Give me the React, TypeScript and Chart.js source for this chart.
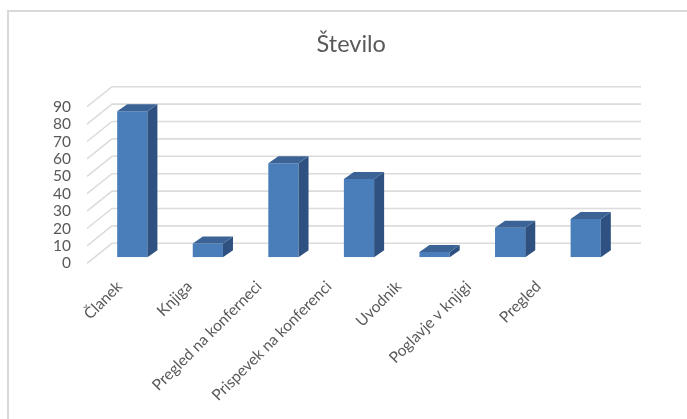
import React, { useEffect, useRef } from "react";
import { Chart, registerables } from "chart.js";

Chart.register(...registerables);

const TITLE = "Število";
const CATEGORIES = [
  "Članek",
  "Knjiga",
  "Pregled na konferneci",
  "Prispevek na konferenci",
  "Uvodnik",
  "Poglavje v knjigi",
  "Pregled",
];
const VALUES = [84, 8, 54, 45, 3, 17, 22];
const Y_MIN = 0;
const Y_MAX = 90;
const Y_STEP = 10;

const FRONT_COLOR = "#4a7ebb";
const SIDE_COLOR = "#2f5181";
const TOP_COLOR = "#3b6396";
const GRID_COLOR = "#dcdcdc";
const TEXT_COLOR = "#595959";
const FONT = "Lato";

const BAR_DEPTH = { dx: 10, dy: -7 };
const WALL_FRONT = { dx: -7.5, dy: 6 };
const WALL_BACK = { dx: 17.5, dy: -14 };

// label axis range (Excel places rotated labels slightly tighter than the bars)
const LABEL_AXIS_MIN = -0.36;
const LABEL_AXIS_MAX = 7.22;

const threeD = {
  id: "threeD",
  beforeDraw(chart: any) {
    const ctx = chart.ctx;
    ctx.save();
    ctx.strokeStyle = "#d9d9d9";
    ctx.lineWidth = 2;
    ctx.strokeRect(8, 11, chart.width + 20, chart.height + 20);
    ctx.restore();
  },
  beforeDatasetsDraw(chart: any) {
    const { ctx, chartArea, scales } = chart;
    const y = scales.y;
    ctx.save();
    ctx.strokeStyle = GRID_COLOR;
    ctx.lineWidth = 1.6;
    y.ticks.forEach((t: any) => {
      const py = y.getPixelForValue(t.value);
      ctx.beginPath();
      ctx.moveTo(chartArea.left + WALL_FRONT.dx, py + WALL_FRONT.dy);
      ctx.lineTo(chartArea.left + WALL_BACK.dx, py + WALL_BACK.dy);
      ctx.lineTo(chartArea.right + WALL_BACK.dx, py + WALL_BACK.dy);
      ctx.stroke();
    });
    ctx.restore();
  },
  afterDatasetsDraw(chart: any) {
    const ctx = chart.ctx;
    const meta = chart.getDatasetMeta(0);
    ctx.save();
    meta.data.forEach((bar: any) => {
      const { x, y, base, width } = bar.getProps(["x", "y", "base", "width"], true);
      const l = x - width / 2;
      const r = x + width / 2;
      const { dx, dy } = BAR_DEPTH;
      ctx.fillStyle = SIDE_COLOR;
      ctx.beginPath();
      ctx.moveTo(r, y);
      ctx.lineTo(r + dx, y + dy);
      ctx.lineTo(r + dx, base + dy);
      ctx.lineTo(r, base);
      ctx.closePath();
      ctx.fill();
      ctx.fillStyle = TOP_COLOR;
      ctx.beginPath();
      ctx.moveTo(l, y);
      ctx.lineTo(l + dx, y + dy);
      ctx.lineTo(r + dx, y + dy);
      ctx.lineTo(r, y);
      ctx.closePath();
      ctx.fill();
    });
    ctx.restore();
  },
};

export default function App() {
  const ref = useRef<HTMLCanvasElement | null>(null);

  useEffect(() => {
    document.body.style.margin = "0";
    if (!ref.current) return;
    const chart = new Chart(ref.current, {
      type: "bar",
      data: {
        labels: CATEGORIES,
        datasets: [
          {
            label: TITLE,
            data: VALUES,
            backgroundColor: FRONT_COLOR,
            borderWidth: 0,
            barPercentage: 0.4,
            categoryPercentage: 1,
            xAxisID: "x",
          },
        ],
      },
      options: {
        responsive: false,
        animation: false,
        layout: { padding: { left: 79, right: 63.5, top: 0, bottom: 0 } },
        plugins: {
          legend: { display: false },
          tooltip: { enabled: false },
          title: {
            display: true,
            text: TITLE,
            color: TEXT_COLOR,
            font: { family: FONT, size: 23.5, weight: "normal" },
            padding: { top: 30, bottom: 42.5 },
          },
        },
        scales: {
          x: {
            display: false,
          },
          xl: {
            type: "linear",
            position: "bottom",
            offset: false,
            min: LABEL_AXIS_MIN,
            max: LABEL_AXIS_MAX,
            grid: { display: false, offset: false },
            border: { display: false },
            afterBuildTicks: (s: any) => {
              s.ticks = CATEGORIES.map((_, i) => ({ value: i }));
            },
            ticks: {
              autoSkip: false,
              minRotation: 45,
              maxRotation: 45,
              padding: 12,
              color: TEXT_COLOR,
              font: { family: FONT, size: 15.5 },
              callback: (_v: any, i: number) => CATEGORIES[i],
            },
            afterFit: (s: any) => {
              s.height = 161.7;
            },
          },
          y: {
            min: Y_MIN,
            max: Y_MAX,
            grid: { display: false },
            border: { display: false },
            ticks: {
              stepSize: Y_STEP,
              autoSkip: false,
              mirror: true,
              crossAlign: "far",
              padding: -41.5,
              labelOffset: 6,
              color: TEXT_COLOR,
              font: { family: FONT, size: 15.5 },
            },
            afterFit: (s: any) => {
              s.width = 15.5;
            },
          },
        },
      },
      plugins: [threeD],
    });
    return () => chart.destroy();
  }, []);

  return (
    <div style={{ width: 687, height: 419 }}>
      <canvas ref={ref} width={687} height={419} style={{ display: "block" }} />
    </div>
  );
}
